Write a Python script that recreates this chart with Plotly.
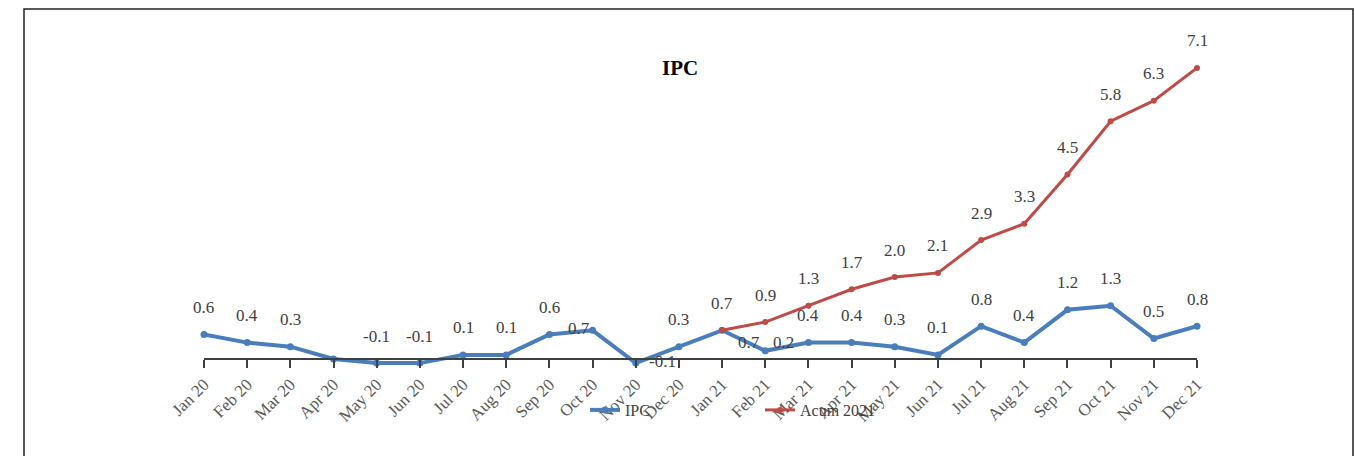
import plotly.graph_objects as go

months = ["Jan 20", "Feb 20", "Mar 20", "Apr 20", "May 20", "Jun 20", "Jul 20", "Aug 20",
          "Sep 20", "Oct 20", "Nov 20", "Dec 20", "Jan 21", "Feb 21", "Mar 21", "Apr 21",
          "May 21", "Jun 21", "Jul 21", "Aug 21", "Sep 21", "Oct 21", "Nov 21", "Dec 21"]
ipc = [0.6, 0.4, 0.3, 0.0, -0.1, -0.1, 0.1, 0.1, 0.6, 0.7, -0.1, 0.3,
       0.7, 0.2, 0.4, 0.4, 0.3, 0.1, 0.8, 0.4, 1.2, 1.3, 0.5, 0.8]
acum_2021 = [None] * 12 + [0.7, 0.9, 1.3, 1.7, 2.0, 2.1, 2.9, 3.3, 4.5, 5.8, 6.3, 7.1]
series_names = ["IPC", "Acum 2021"]
hidden_labels = {("IPC", "Apr 20")}

BLUE = "#4A7EBB"
RED = "#BE4B48"
W, H = 1355, 456
FONT = "Liberation Serif"

def px_x(p):
    return p / W

def px_y(p):
    return (H - p) / H

fig = go.Figure()
fig.add_trace(go.Scatter(x=months, y=ipc, name=series_names[0], mode="lines+markers",
                         line=dict(color=BLUE, width=4), marker=dict(color=BLUE, size=7),
                         cliponaxis=False))
fig.add_trace(go.Scatter(x=months, y=acum_2021, name=series_names[1], mode="lines+markers",
                         line=dict(color=RED, width=3), marker=dict(color=RED, size=6),
                         cliponaxis=False))

special = {
    ("IPC", "Oct 20"): (-14, 2),
    ("IPC", "Nov 20"): (27, 2),
    ("IPC", "Feb 21"): (18, 8),
    ("Acum 2021", "Jan 21"): (27, -12),
}
annotations = []
for name, vals in zip(series_names, [ipc, acum_2021]):
    for m, v in zip(months, vals):
        if v is None or (name, m) in hidden_labels:
            continue
        dx, dy = special.get((name, m), (0, 27))
        annotations.append(dict(x=m, y=v, xref="x", yref="y", text=f"{v:.1f}",
                                showarrow=False, xshift=dx, yshift=dy,
                                xanchor="center", yanchor="middle",
                                font=dict(family=FONT, size=17, color="#404040")))

annotations.append(dict(x=px_x(680), y=px_y(68), xref="paper", yref="paper", text="<b>IPC</b>",
                        showarrow=False, xanchor="center", yanchor="middle",
                        font=dict(family=FONT, size=21, color="#000000")))

fig.update_layout(
    width=W, height=H,
    margin=dict(l=0, r=0, t=0, b=0, autoexpand=False),
    paper_bgcolor="white", plot_bgcolor="white",
    annotations=annotations,
    showlegend=True,
    legend=dict(orientation="h", x=px_x(585), y=px_y(410), xanchor="left", yanchor="middle",
                bgcolor="rgba(0,0,0,0)", font=dict(family=FONT, size=16, color="#404040"),
                entrywidth=130, entrywidthmode="pixels", itemwidth=30),
    xaxis=dict(type="category", range=[0, 23], domain=[px_x(204), px_x(1197)],
               anchor="free", position=px_y(359), automargin=False,
               showline=True, linecolor="#404040", linewidth=1.5,
               ticks="outside", ticklen=8, tickcolor="#404040", tickwidth=1.5,
               tickangle=-45, showgrid=False, zeroline=False,
               tickfont=dict(family=FONT, size=17, color="#595959")),
    yaxis=dict(range=[-0.5, 7.5], domain=[px_y(379.5), px_y(51.5)], automargin=False,
               visible=False, showgrid=False, zeroline=False),
    shapes=[dict(type="rect", xref="paper", yref="paper",
                 x0=px_x(24), x1=px_x(1353), y0=-0.05, y1=px_y(9),
                 line=dict(color="#222222", width=1.5), fillcolor="rgba(0,0,0,0)", layer="below")],
)

fig.write_html("out.html", config={"displayModeBar": False},
               post_script="document.body.style.margin='0';document.body.style.overflow='hidden';")
